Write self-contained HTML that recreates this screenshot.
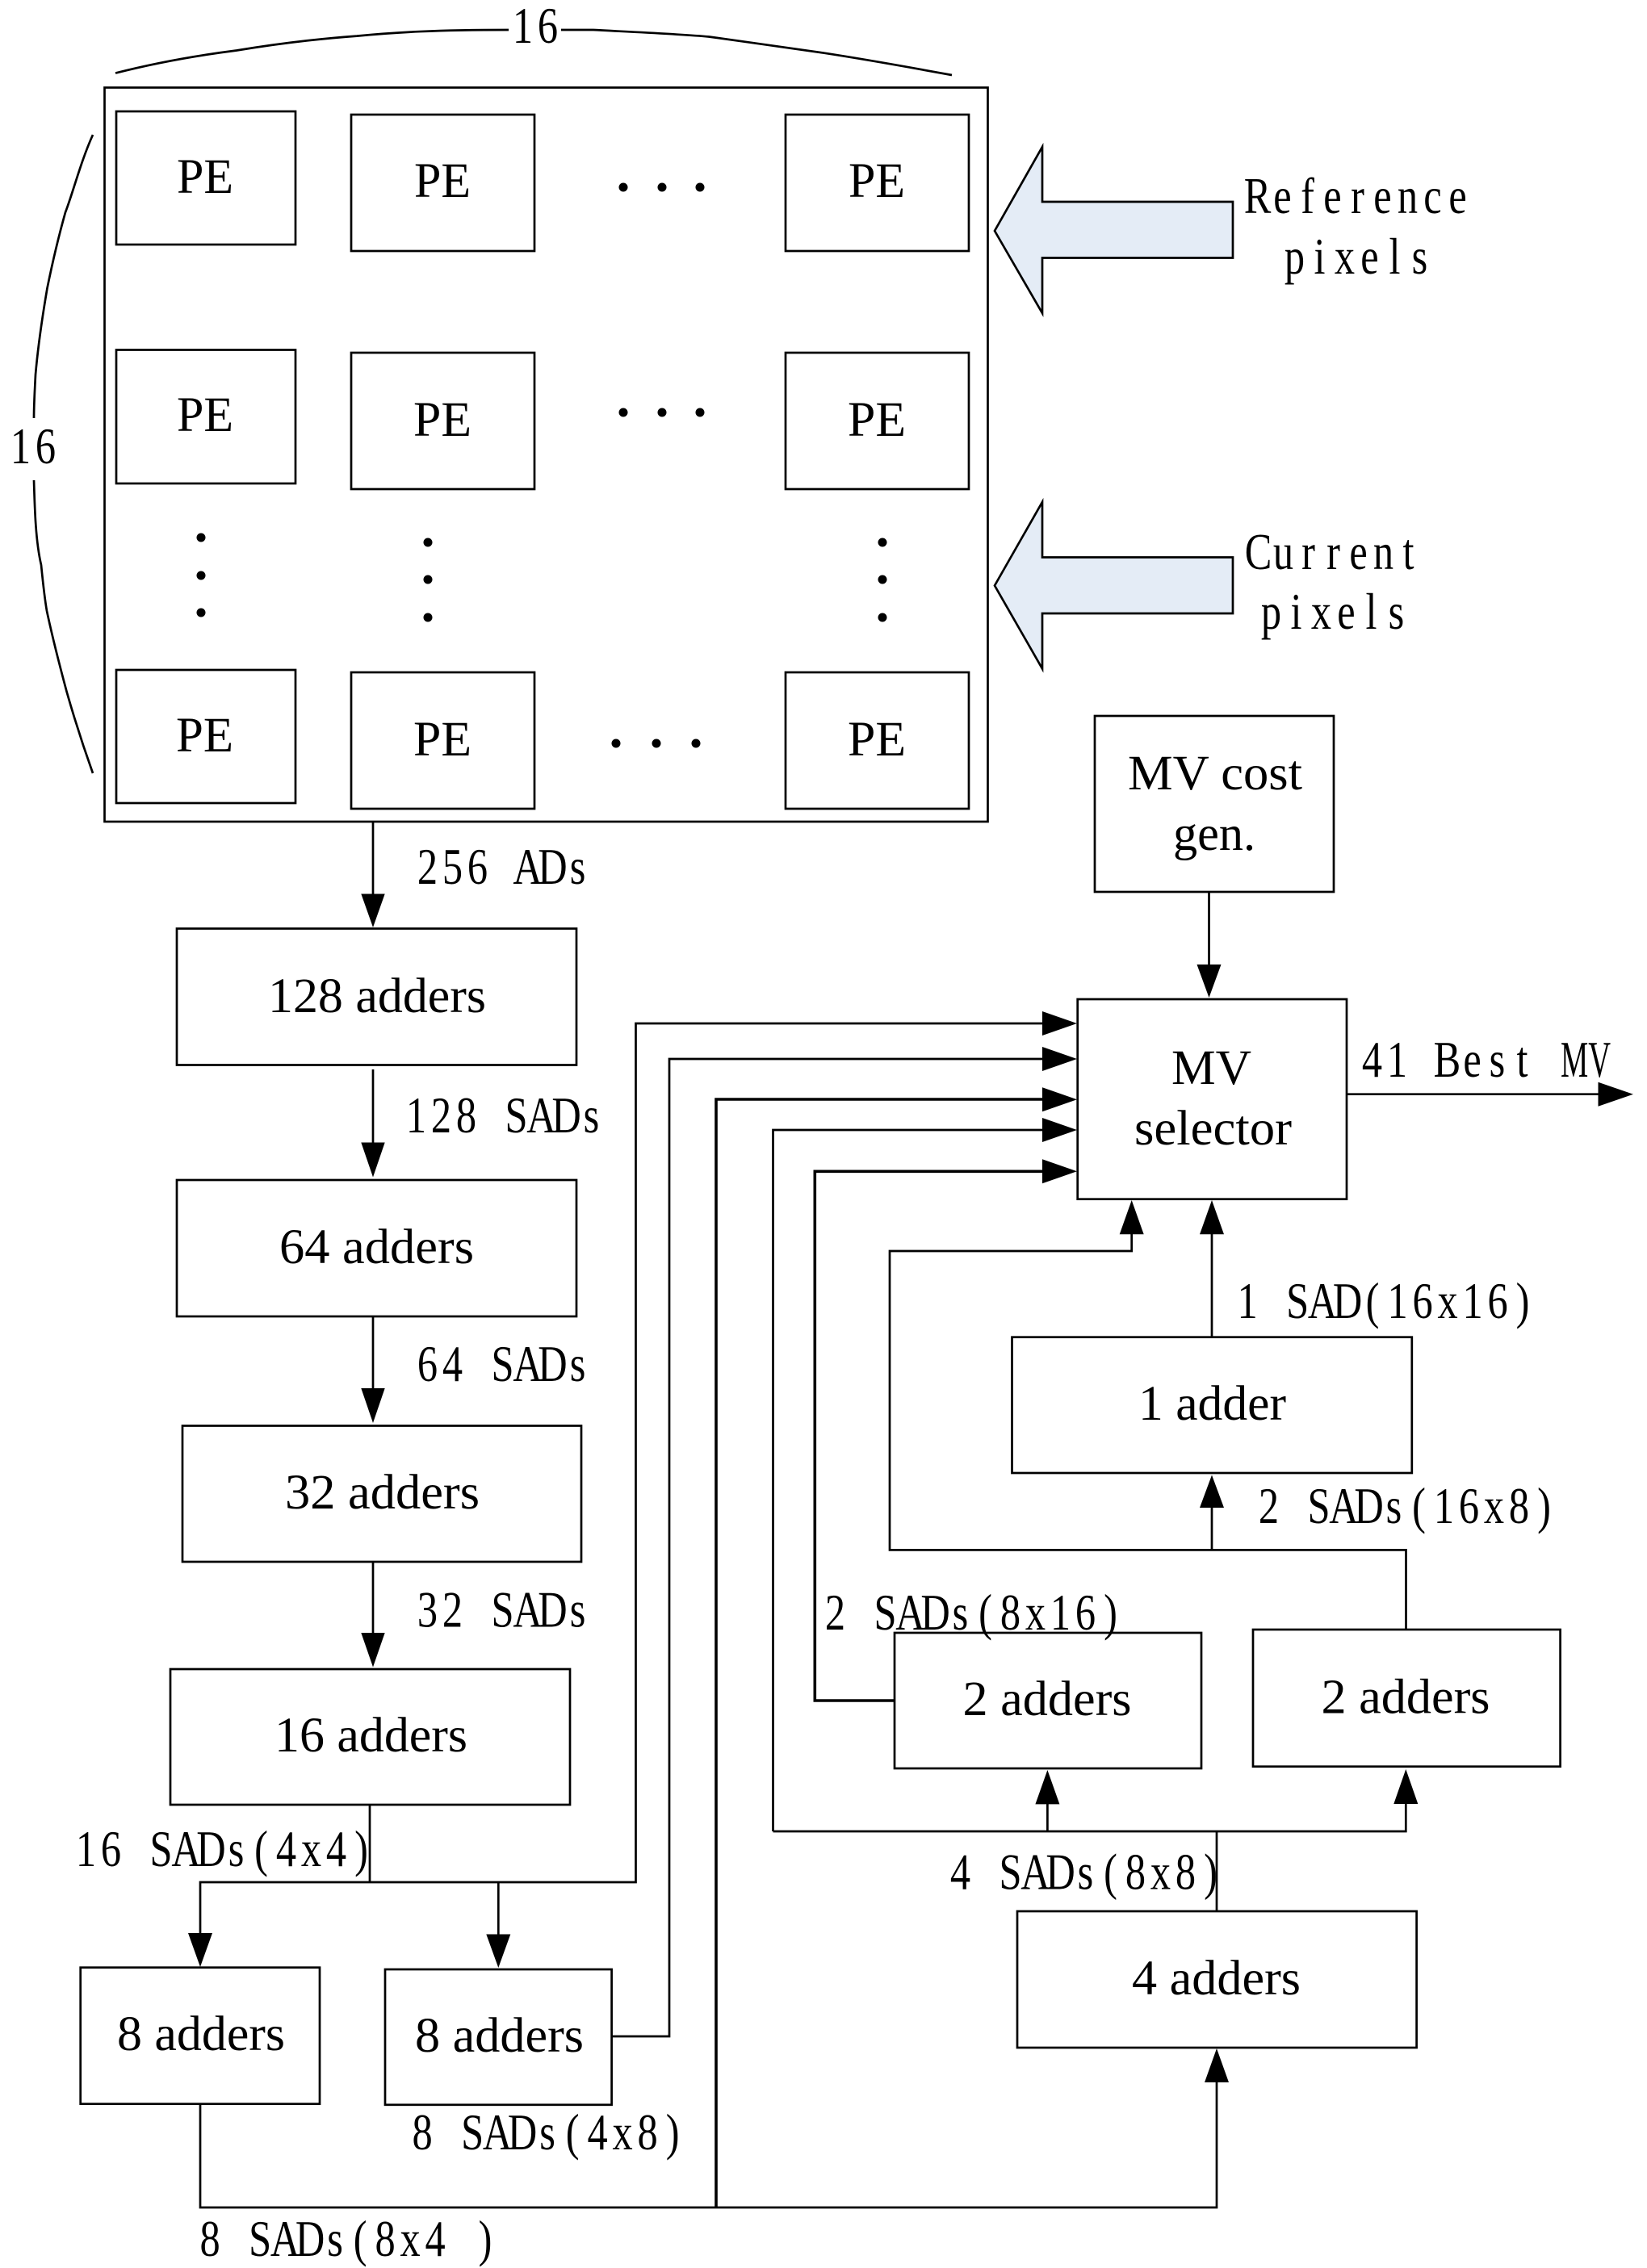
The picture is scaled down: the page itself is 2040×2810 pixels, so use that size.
<!DOCTYPE html>
<html><head><meta charset="utf-8"><style>
html,body{margin:0;padding:0;background:#fff}
svg{display:block}
text{font-family:"Liberation Serif",serif;fill:#000}
.b{font-size:61px}
.m{font-size:63px;text-anchor:middle}
.g{font-size:63px}
.l{fill:none;stroke:#000;stroke-width:2.7}
.t{fill:none;stroke:#000;stroke-width:3.6}
.h{fill:#000;stroke:none}
.r{fill:#fff;stroke:#000;stroke-width:2.7}
</style></head><body>
<svg xmlns="http://www.w3.org/2000/svg" width="2040" height="2810" viewBox="0 0 2040 2810">
<rect width="2040" height="2810" fill="#fff"/>
<!-- braces -->
<path class="l" d="M143 90.6C200 76 250 68 293 62.5C345 54 395 48 442 44.6C490 40 540 37 630 37M695 37H735C790 40 840 42 878 45.5C925 52 975 59 1020 65.6C1075 74 1130 84 1179 93"/>
<path class="l" d="M115 167C100 200 90 240 81 263C72 295 64 330 58.5 357C52 395 47 430 44 464C43 485 42 500 42 518M42 595C43 630 44 670 51 700C53 720 55 740 58 757C65 790 74 825 82.6 857C92 890 105 930 115 958"/>
<text class="m" transform="translate(632,53) scale(.8,1)" x="19.4 58.1">16</text>
<text class="m" transform="translate(10,574) scale(.8,1)" x="19.4 58.1">16</text>
<!-- outer -->
<rect class="r" x="129.5" y="108.5" width="1094" height="909.5"/>
<!-- PE grid -->
<rect class="r" x="144" y="138" width="222" height="165"/>
<rect class="r" x="435" y="142" width="227" height="169"/>
<rect class="r" x="973" y="142" width="227" height="169"/>
<rect class="r" x="144" y="433.5" width="222" height="165.5"/>
<rect class="r" x="435" y="437" width="227" height="169"/>
<rect class="r" x="973" y="437" width="227" height="169"/>
<rect class="r" x="144" y="830" width="222" height="165"/>
<rect class="r" x="435" y="833" width="227" height="169"/>
<rect class="r" x="973" y="833" width="227" height="169"/>
<text class="b" x="219" y="239" textLength="70" lengthAdjust="spacingAndGlyphs">PE</text>
<text class="b" x="513" y="244" textLength="70" lengthAdjust="spacingAndGlyphs">PE</text>
<text class="b" x="1051" y="244" textLength="70" lengthAdjust="spacingAndGlyphs">PE</text>
<text class="b" x="219" y="534" textLength="70" lengthAdjust="spacingAndGlyphs">PE</text>
<text class="b" x="512" y="540" textLength="72" lengthAdjust="spacingAndGlyphs">PE</text>
<text class="b" x="1050" y="540" textLength="72" lengthAdjust="spacingAndGlyphs">PE</text>
<text class="b" x="218" y="931" textLength="71" lengthAdjust="spacingAndGlyphs">PE</text>
<text class="b" x="512" y="936" textLength="72" lengthAdjust="spacingAndGlyphs">PE</text>
<text class="b" x="1050" y="936" textLength="72" lengthAdjust="spacingAndGlyphs">PE</text>
<!-- dots -->
<g fill="#000">
<circle cx="772" cy="232" r="5.5"/><circle cx="820" cy="232" r="5.5"/><circle cx="867" cy="232" r="5.5"/>
<circle cx="772" cy="511" r="5.5"/><circle cx="820" cy="511" r="5.5"/><circle cx="867" cy="511" r="5.5"/>
<circle cx="763" cy="921" r="5.5"/><circle cx="813" cy="921" r="5.5"/><circle cx="862" cy="921" r="5.5"/>
<circle cx="249" cy="666" r="5.5"/><circle cx="249" cy="713" r="5.5"/><circle cx="249" cy="759" r="5.5"/>
<circle cx="530" cy="672" r="5.5"/><circle cx="530" cy="718" r="5.5"/><circle cx="530" cy="765" r="5.5"/>
<circle cx="1093" cy="672" r="5.5"/><circle cx="1093" cy="718" r="5.5"/><circle cx="1093" cy="765" r="5.5"/>
</g>
<!-- block arrows -->
<polygon points="1232,286 1291,182 1291,250 1527,250 1527,319.5 1291,319.5 1291,388" fill="#E4ECF6" stroke="#000" stroke-width="2.7"/>
<polygon points="1232,725.5 1291,622 1291,690.5 1527,690.5 1527,760 1291,760 1291,828.5" fill="#E4ECF6" stroke="#000" stroke-width="2.7"/>
<text class="m" transform="translate(1542,264) scale(.8,1)" x="19.4 58.1 96.9 135.6 174.4 213.1 251.9 290.6 329.4">Reference</text>
<text class="m" transform="translate(1588,339) scale(.8,1)" x="19.4 58.1 96.9 135.6 174.4 213.1">pixels</text>
<text class="m" transform="translate(1543,705) scale(.8,1)" x="19.4 58.1 96.9 135.6 174.4 213.1 251.9">Current</text>
<text class="m" transform="translate(1559,779) scale(.8,1)" x="19.4 58.1 96.9 135.6 174.4 213.1">pixels</text>
<!-- connectors -->
<path class="l" d="M462 1018V1110M462 1325V1418M462 1631V1722M462 1935V2025"/>
<path class="l" d="M458 2236V2332M248 2397V2332H787.5V1268H1293"/>
<path class="l" d="M617.3 2332V2398"/>
<path class="l" d="M757.6 2523H829V1312H1293"/>
<path class="l" d="M248 2607V2735H1507V2578"/>
<path class="t" d="M887 2735V1362H1293"/>
<path class="l" d="M1507 2368V2269M957.5 2269H1741.3V2233M957.5 2269V1400H1293M1297.4 2269V2233"/>
<path class="t" d="M1108 2107H1009.3V1451.3H1293"/>
<path class="l" d="M1741.5 2019V1920.4H1102V1550H1401.7V1527"/>
<path class="l" d="M1501 1920.4V1866M1501 1656.7V1527M1497.5 1105V1197M1668 1355.7H1982"/>
<!-- boxes -->
<rect class="r" x="219" y="1150.5" width="495" height="169"/>
<rect class="r" x="219" y="1462" width="495" height="169"/>
<rect class="r" x="226" y="1766.5" width="494" height="168.5"/>
<rect class="r" x="211" y="2068" width="495" height="168"/>
<rect class="r" x="99.7" y="2437.7" width="296.3" height="169"/>
<rect class="r" x="477" y="2440" width="280.6" height="167.8"/>
<rect class="r" x="1260" y="2368" width="494.6" height="169"/>
<rect class="r" x="1108" y="2023" width="380" height="168"/>
<rect class="r" x="1552" y="2019" width="380.6" height="169.7"/>
<rect class="r" x="1253.5" y="1656.7" width="495.3" height="168.3"/>
<rect class="r" x="1334.7" y="1238" width="333.3" height="247.7"/>
<rect class="r" x="1356" y="887" width="296" height="218"/>
<!-- box labels -->
<text class="b" x="332" y="1254" textLength="270" lengthAdjust="spacingAndGlyphs">128 adders</text>
<text class="b" x="346" y="1565" textLength="241" lengthAdjust="spacingAndGlyphs">64 adders</text>
<text class="b" x="353" y="1869" textLength="241" lengthAdjust="spacingAndGlyphs">32 adders</text>
<text class="b" x="340" y="2170" textLength="239" lengthAdjust="spacingAndGlyphs">16 adders</text>
<text class="b" x="145" y="2540" textLength="208" lengthAdjust="spacingAndGlyphs">8 adders</text>
<text class="b" x="514" y="2542" textLength="209" lengthAdjust="spacingAndGlyphs">8 adders</text>
<text class="b" x="1402" y="2471" textLength="209" lengthAdjust="spacingAndGlyphs">4 adders</text>
<text class="b" x="1192.5" y="2125" textLength="209" lengthAdjust="spacingAndGlyphs">2 adders</text>
<text class="b" x="1636.5" y="2122.5" textLength="209" lengthAdjust="spacingAndGlyphs">2 adders</text>
<text class="b" x="1410" y="1759" textLength="183" lengthAdjust="spacingAndGlyphs">1 adder</text>
<text class="b" x="1397" y="978" textLength="216" lengthAdjust="spacingAndGlyphs">MV cost</text>
<text class="b" x="1453" y="1053" textLength="102" lengthAdjust="spacingAndGlyphs">gen.</text>
<text class="b" x="1451" y="1343" textLength="99" lengthAdjust="spacingAndGlyphs">MV</text>
<text class="b" x="1405" y="1418" textLength="195" lengthAdjust="spacingAndGlyphs">selector</text>
<!-- arrowheads -->
<g class="h">
<polygon points="462,1149 447.3,1107.5 476.7,1107.5"/>
<polygon points="462,1458.5 447.3,1415.5 476.7,1415.5"/>
<polygon points="462,1763 447.3,1720 476.7,1720"/>
<polygon points="462,2065.5 447.3,2023 476.7,2023"/>
<polygon points="248,2437 233,2395 263,2395"/>
<polygon points="617.3,2438 602.3,2396.5 632.3,2396.5"/>
<polygon points="1497.5,1236 1482.5,1195 1512.5,1195"/>
<polygon points="1334,1268 1291,1253 1291,1283"/>
<polygon points="1334,1312 1291,1297 1291,1327"/>
<polygon points="1334,1362.3 1291,1347.3 1291,1377.3"/>
<polygon points="1334,1400 1291,1385 1291,1415"/>
<polygon points="1334,1451.3 1291,1436.3 1291,1466.3"/>
<polygon points="2023,1355.7 1979.5,1340.7 1979.5,1370.7"/>
<polygon points="1401.7,1487 1386.7,1529.3 1416.7,1529.3"/>
<polygon points="1501,1487 1486,1529.3 1516,1529.3"/>
<polygon points="1501,1827.5 1486,1868 1516,1868"/>
<polygon points="1297.4,2193 1282.4,2235.4 1312.4,2235.4"/>
<polygon points="1741.3,2192 1726.3,2235 1756.3,2235"/>
<polygon points="1507,2538 1492,2580 1522,2580"/>
</g>
<!-- mono labels -->
<text class="m" transform="translate(514,1095) scale(.8,1)" x="19.4 58.1 96.9 135.6 174.4 213.1 251.9">256 ADs</text>
<text class="m" transform="translate(500,1403) scale(.8,1)" x="19.4 58.1 96.9 135.6 174.4 213.1 251.9 290.6">128 SADs</text>
<text class="m" transform="translate(514,1711) scale(.8,1)" x="19.4 58.1 96.9 135.6 174.4 213.1 251.9">64 SADs</text>
<text class="m" transform="translate(514,2015.5) scale(.8,1)" x="19.4 58.1 96.9 135.6 174.4 213.1 251.9">32 SADs</text>
<text class="m" transform="translate(91,2312) scale(.8,1)" x="19.4 58.1 96.9 135.6 174.4 213.1 251.9 290.6 329.4 368.1 406.9 445.6">16 SADs(4x4)</text>
<text class="m" transform="translate(507.6,2663) scale(.8,1)" x="19.4 58.1 96.9 135.6 174.4 213.1 251.9 290.6 329.4 368.1 406.9">8 SADs(4x8)</text>
<text class="m" transform="translate(244.6,2795) scale(.8,1)" x="19.4 58.1 96.9 135.6 174.4 213.1 251.9 290.6 329.4 368.1 406.9 445.6">8 SADs(8x4 )</text>
<text class="m" transform="translate(1174,2340.6) scale(.8,1)" x="19.4 58.1 96.9 135.6 174.4 213.1 251.9 290.6 329.4 368.1 406.9">4 SADs(8x8)</text>
<text class="m" transform="translate(1019,2019) scale(.8,1)" x="19.4 58.1 96.9 135.6 174.4 213.1 251.9 290.6 329.4 368.1 406.9 445.6">2 SADs(8x16)</text>
<text class="m" transform="translate(1556,1887) scale(.8,1)" x="19.4 58.1 96.9 135.6 174.4 213.1 251.9 290.6 329.4 368.1 406.9 445.6">2 SADs(16x8)</text>
<text class="m" transform="translate(1529.6,1633) scale(.8,1)" x="19.4 58.1 96.9 135.6 174.4 213.1 251.9 290.6 329.4 368.1 406.9 445.6">1 SAD(16x16)</text>
<text class="m" transform="translate(1684,1334) scale(.8,1)" x="19.4 58.1 96.9 135.6 174.4 213.1 251.9">41 Best</text>
<text class="g" x="1933" y="1334" textLength="62" lengthAdjust="spacingAndGlyphs">MV</text>
</svg>
</body></html>
